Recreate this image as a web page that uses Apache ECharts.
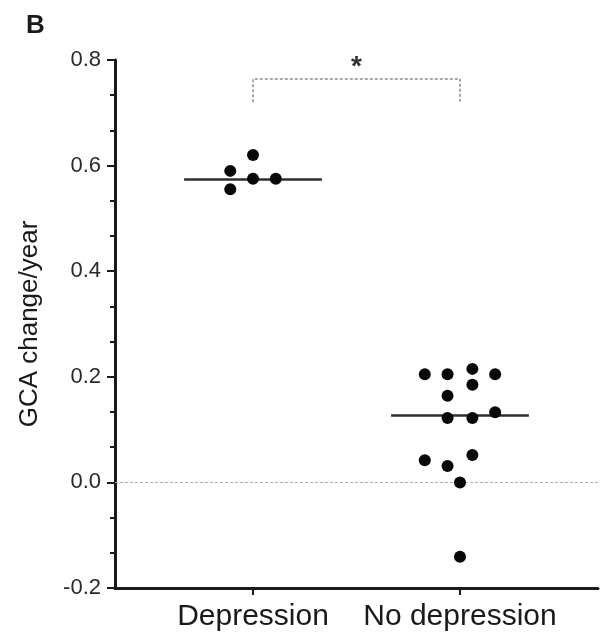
<!DOCTYPE html>
<html>
<head>
<meta charset="utf-8">
<title>GCA change/year</title>
<script src="https://cdn.jsdelivr.net/npm/echarts@6/dist/echarts.min.js"></script>
<style>
  html, body { margin: 0; padding: 0; background: #fff; }
  #container { width: 606px; height: 644px; }
</style>
</head>
<body>
<div id="container"></div>
<script>
// groups on the x axis (group i sits at x = i + 1)
var categories = ['Depression', 'No depression'];

// GCA change/year, one entry per subject
var depressionValues = [0.59, 0.555, 0.62, 0.575, 0.575];
var depressionJitter = [-0.11, -0.11, 0, 0, 0.11];

var noDepressionValues = [0.205, 0.205, 0.215, 0.205, 0.185, 0.164, 0.122, 0.122, 0.133, 0.042, 0.031, 0.052, 0, -0.141];
var noDepressionJitter = [-0.17, -0.06, 0.06, 0.17, 0.06, -0.06, -0.06, 0.06, 0.17, -0.17, -0.06, 0.06, 0, 0];

var yTicks = [-0.2, 0.0, 0.2, 0.4, 0.6, 0.8];

// significance bracket between the two groups
var bracketTop = 0.764;
var bracketFoot = 0.72;
var significanceMark = '*';

var FONT = '"Liberation Sans", Arial, Helvetica, sans-serif';
var INK = '#1a1a1a';

function median(arr) {
    var s = arr.slice().sort(function (a, b) { return a - b; });
    var m = Math.floor(s.length / 2);
    return s.length % 2 ? s[m] : (s[m - 1] + s[m]) / 2;
}

function points(center, values, jitter) {
    var out = [];
    for (var i = 0; i < values.length; i++) {
        out.push([center + jitter[i], values[i]]);
    }
    return out;
}

function medianLine(center, values) {
    var med = median(values);
    var half = 0.333;
    return [{ coord: [center - half, med] }, { coord: [center + half, med] }];
}

var groups = [
    { values: depressionValues, jitter: depressionJitter },
    { values: noDepressionValues, jitter: noDepressionJitter }
];

var series = groups.map(function (g, i) {
    return {
        name: categories[i],
        type: 'scatter',
        symbol: 'circle',
        symbolSize: 12,
        itemStyle: { color: '#080808', opacity: 1 },
        data: points(i + 1, g.values, g.jitter),
        markLine: {
            silent: true,
            symbol: 'none',
            label: { show: false },
            lineStyle: { color: '#2e2e2e', width: 2.5, type: 'solid' },
            data: [medianLine(i + 1, g.values)]
        },
        z: 6
    };
});

// zero reference line (kept below the dots)
series.push({
    type: 'line',
    data: [],
    z: 1,
    markLine: {
        z: 1,
        silent: true,
        symbol: 'none',
        label: { show: false },
        lineStyle: { color: '#b0b0b0', width: 1, type: [3, 2] },
        data: [{ yAxis: 0 }]
    }
});

// bracket
series.push({
    type: 'line',
    symbol: 'none',
    silent: true,
    lineStyle: { color: '#8c8c8c', width: 1.5, type: [3, 2] },
    data: [[1, bracketFoot], [1, bracketTop], [2, bracketTop], [2, bracketFoot]],
    z: 2
});

// star
series.push({
    type: 'scatter',
    symbolSize: 1,
    itemStyle: { color: 'rgba(0,0,0,0)' },
    silent: true,
    data: [[1.5, 0.786]],
    label: {
        show: true,
        position: 'inside',
        formatter: significanceMark,
        fontFamily: FONT,
        fontSize: 28,
        fontWeight: 'bold',
        color: '#000'
    }
});

var option = {
    animation: false,
    backgroundColor: '#fff',
    title: {
        text: 'B',
        left: 21,
        top: 8,
        textStyle: { fontFamily: FONT, fontSize: 26, fontWeight: 'bold', color: INK }
    },
    grid: { left: 115, right: 8, top: 60, bottom: 56 },
    xAxis: {
        type: 'value',
        min: 0.333,
        max: 2.667,
        splitLine: { show: false },
        axisLine: { show: true, onZero: false, lineStyle: { color: INK, width: 3 } },
        axisTick: { show: true, customValues: [1, 2], length: 7, lineStyle: { color: INK, width: 2 } },
        axisLabel: {
            customValues: [1, 2],
            margin: 14,
            fontFamily: FONT,
            fontSize: 30,
            color: INK,
            formatter: function (v) { return categories[Math.round(v) - 1]; }
        }
    },
    yAxis: {
        type: 'value',
        min: -0.2,
        max: 0.8,
        interval: 0.2,
        name: 'GCA change/year',
        nameLocation: 'middle',
        nameGap: 72,
        nameTextStyle: { fontFamily: FONT, fontSize: 26, color: INK },
        splitLine: { show: false },
        axisLine: { show: true, lineStyle: { color: INK, width: 3 } },
        axisTick: { show: true, length: 8, lineStyle: { color: INK, width: 2 } },
        minorTick: { show: true, splitNumber: 3, length: 5, lineStyle: { color: INK, width: 2 } },
        axisLabel: {
            margin: 14,
            fontFamily: FONT,
            fontSize: 22,
            color: '#2a2a2a',
            formatter: function (v) {
                for (var i = 0; i < yTicks.length; i++) {
                    if (Math.abs(yTicks[i] - v) < 1e-6) return yTicks[i].toFixed(1);
                }
                return '';
            }
        }
    },
    series: series
};

echarts.init(document.getElementById('container')).setOption(option);
</script>
</body>
</html>
